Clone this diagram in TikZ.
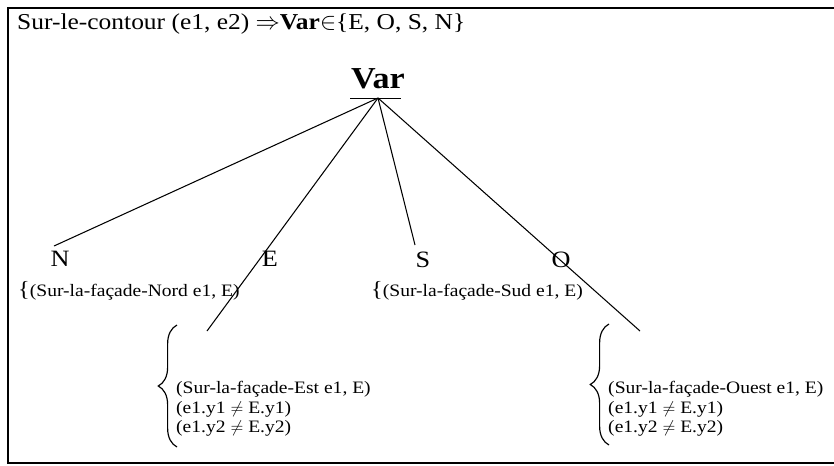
\documentclass[tikz,border=0pt]{standalone}
\usepackage{fontspec}
\setmainfont{Liberation Serif}[FakeStretch=1.12]
\usetikzlibrary{decorations.pathreplacing}
\newcommand{\fsTitle}{\fontsize{19.4}{21}\selectfont}
\newcommand{\fsVar}{\fontsize{26}{28}\selectfont}
\newcommand{\fsLab}{\fontsize{20}{22}\selectfont}
\newcommand{\fsSub}{\fontsize{14.9}{16.5}\selectfont}
\newcommand{\smallbr}{{\fontsize{18.5}{18.5}\selectfont\{}}
\tikzset{
  frame/.style={line width=1.8pt},
  branch/.style={line width=0.9pt},
  lab/.style={font=\fsLab, anchor=base, inner sep=0pt},
  sub/.style={font=\fsSub, anchor=base west, inner sep=0pt},
  bigbrace/.style={decorate, decoration={brace, amplitude=16pt}, line width=1pt}
}
\begin{document}
\begin{tikzpicture}[x=0.03cm,y=-0.03cm]
\useasboundingbox (0,0) rectangle (834,465);
\draw[frame] (840,8) -- (8,8) -- (8,463) -- (840,463);
\node[font=\fsTitle, anchor=base west, inner sep=0pt] (title) at (17,29)
  {Sur-le-contour (e1, e2) $\Rightarrow$\textbf{Var}$\in$\{E, O, S, N\}};
\node[font=\fsVar\bfseries, anchor=base, inner sep=0pt] (var) at (378,88) {Var};
\coordinate (apex) at (378,98);
\coordinate (ulL) at (350,98);
\coordinate (ulR) at (401,98);
\draw[line width=0.6pt] (ulL) -- (ulR);
\node[lab] (N) at (60,266) {N};
\node[lab] (E) at (270,266) {E};
\node[lab] (S) at (423,267) {S};
\node[lab] (O) at (561,267) {O};
\coordinate (nEnd) at (54,246);
\coordinate (eEnd) at (207,331);
\coordinate (sEnd) at (415,245);
\coordinate (oEnd) at (640,331);
\draw[branch] (apex) -- (nEnd);
\draw[branch] (apex) -- (eEnd);
\draw[branch] (apex) -- (sEnd);
\draw[branch] (apex) -- (oEnd);
\node[sub] (nord) at (18,296) {\smallbr(Sur-la-façade-Nord e1, E)};
\node[sub] (sud) at (371,296) {\smallbr(Sur-la-façade-Sud e1, E)};
\coordinate (b1t) at (177,325);
\coordinate (b1b) at (177,447);
\draw[bigbrace] (b1b) -- (b1t);
\node[sub] (est1) at (176,393) {(Sur-la-façade-Est e1, E)};
\node[sub] (est2) at (176,413) {(e1.y1 $\neq$ E.y1)};
\node[sub] (est3) at (176,432) {(e1.y2 $\neq$ E.y2)};
\coordinate (b2t) at (609,324);
\coordinate (b2b) at (609,445);
\draw[bigbrace] (b2b) -- (b2t);
\node[sub] (ou1) at (608,393) {(Sur-la-façade-Ouest e1, E)};
\node[sub] (ou2) at (608,413) {(e1.y1 $\neq$ E.y1)};
\node[sub] (ou3) at (608,432) {(e1.y2 $\neq$ E.y2)};
\end{tikzpicture}
\end{document}
